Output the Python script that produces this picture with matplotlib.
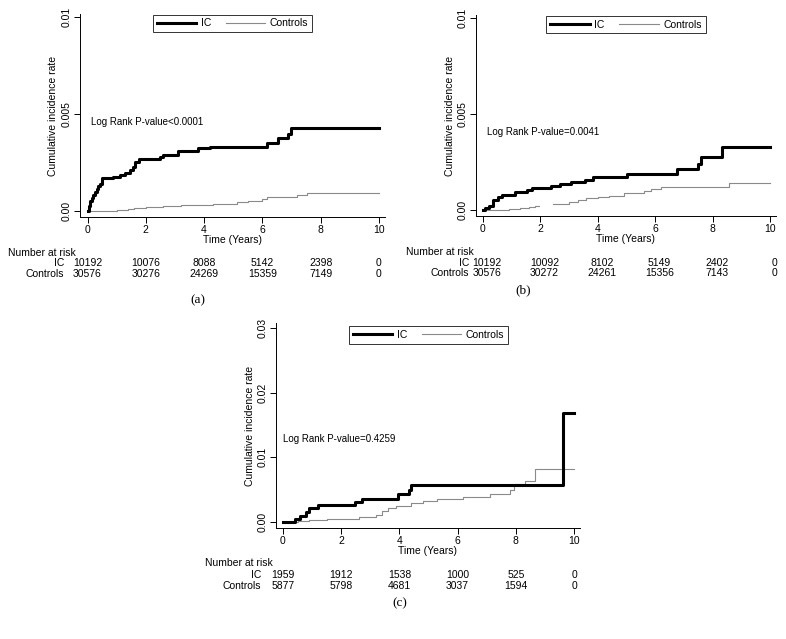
import matplotlib
matplotlib.use("Agg")
import matplotlib.pyplot as plt
import matplotlib.transforms as mtransforms
import numpy as np

plt.rcParams['font.family'] = ['Liberation Sans', 'DejaVu Sans']
plt.rcParams['font.size'] = 7

W, H = 786, 639

# ---- data ----
years = [0, 2, 4, 6, 8, 10]

# panel (a)
a_ic_t = [0, 0.05, 0.1, 0.14, 0.2, 0.26, 0.32, 0.37, 0.43, 0.49, 0.86, 1.11, 1.28, 1.46,
          1.57, 1.63, 1.76, 2.5, 2.6, 3.1, 3.8, 4.2, 6.15, 6.55, 6.89, 6.98, 10]
a_ic_v = [0, 0.00025, 0.0005, 0.00065, 0.00085, 0.001, 0.00115, 0.00129, 0.0014, 0.00168,
          0.00174, 0.00186, 0.00198, 0.00211, 0.00228, 0.00254, 0.00268, 0.0028, 0.00289,
          0.00311, 0.00323, 0.0033, 0.00352, 0.00375, 0.00397, 0.00426, 0.00426]
a_ct_t = [0, 0.6, 1.0, 1.4, 1.6, 1.8, 2.0, 2.6, 3.2, 3.8, 4.3, 4.9, 5.12, 5.52, 5.97, 6.15,
          7.18, 7.52, 10]
a_ct_v = [0, 0.00002, 0.00004, 0.00008, 0.00013, 0.00017, 0.0002, 0.00025, 0.0003, 0.00033,
          0.00035, 0.00038, 0.00044, 0.00052, 0.0006, 0.00074, 0.00082, 0.00094, 0.00094]
a_risk_ic = ["10192", "10076", "8088", "5142", "2398", "0"]
a_risk_ct = ["30576", "30276", "24269", "15359", "7149", "0"]
a_pval = "Log Rank P-value<0.0001"

# panel (b)
b_ic_t = [0, 0.07, 0.21, 0.36, 0.53, 0.67, 1.11, 1.52, 1.7, 2.37, 2.69, 3.06, 3.56, 3.84,
          5.0, 6.75, 7.5, 7.6, 8.32, 10]
b_ic_v = [0, 0.00009, 0.00021, 0.00052, 0.00066, 0.00078, 0.00092, 0.00102, 0.00112,
          0.00125, 0.00136, 0.00148, 0.00158, 0.0017, 0.00187, 0.00212, 0.00238, 0.00274,
          0.00326, 0.00326]
b_ct_t = [0, 0.5, 0.9, 1.3, 1.6, 1.8, 1.95, 2.45, 3.0, 3.3, 3.6, 4.0, 4.4, 4.9, 5.6, 5.86,
          6.21, 8.58, 10]
b_ct_v = [0, 0.00002, 0.00005, 0.0001, 0.00015, 0.00022, np.nan, 0.00033, 0.00042, 0.0005,
          0.0006, 0.00068, 0.00073, 0.00087, 0.001, 0.00109, 0.00122, 0.00142, 0.00142]
b_risk_ic = ["10192", "10092", "8102", "5149", "2402", "0"]
b_risk_ct = ["30576", "30272", "24261", "15356", "7143", "0"]
b_pval = "Log Rank P-value=0.0041"

# panel (c)
c_ic_t = [0, 0.4, 0.57, 0.8, 0.89, 1.2, 2.46, 2.73, 3.95, 4.33, 4.41, 9.62, 10]
c_ic_v = [0, 0.00041, 0.00098, 0.0016, 0.00212, 0.00264, 0.00311, 0.00363, 0.0043,
          0.00497, 0.0057, 0.0168, 0.0168]
c_ct_t = [0, 0.5, 0.9, 1.5, 2.2, 2.6, 3.2, 3.4, 3.6, 3.9, 4.4, 4.8, 5.3, 6.2, 7.1, 7.8,
          7.95, 8.3, 8.65, 10]
c_ct_v = [0, 0.0001, 0.0003, 0.0004, 0.0005, 0.0008, 0.0011, 0.0017, 0.0021, 0.0025,
          0.0029, 0.0032, 0.0035, 0.0038, 0.0044, 0.0049, 0.0058, 0.0063, 0.0082, 0.0082]
c_risk_ic = ["1959", "1912", "1538", "1000", "525", "0"]
c_risk_ct = ["5877", "5798", "4681", "3037", "1594", "0"]
c_pval = "Log Rank P-value=0.4259"

ab_yticks = [0, 0.005, 0.01]
ab_ylabels = ["0.00", "0.005", "0.01"]
c_yticks = [0, 0.01, 0.02, 0.03]
c_ylabels = ["0.00", "0.01", "0.02", "0.03"]

fig = plt.figure(figsize=(W / 100, H / 100), dpi=100)


def fy(py):
    return 1 - py / H


def panel(box, x0, pxyr, y0, ppu, ic_t, ic_v, ct_t, ct_v, yticks, ylabels,
          pval, pval_xy, legend_c, risk_ic, risk_ct, risk_y, lab_right, nar_left,
          tag, tag_xy, ylab_x, num_shift=0):
    left, top, right, bottom = box
    ax = fig.add_axes([left / W, fy(bottom), (right - left) / W, (bottom - top) / H])
    ax.set_xlim((left - x0) / pxyr, (right - x0) / pxyr)
    ax.set_ylim((y0 - bottom) / ppu, (y0 - top) / ppu)

    ax.plot(ct_t, ct_v, drawstyle='steps-post', color='#8a8a8a', lw=0.8, label='Controls')
    ax.plot(ic_t, ic_v, drawstyle='steps-post', color='black', lw=2.2, label='IC')

    for s in ['top', 'right']:
        ax.spines[s].set_visible(False)
    ax.spines['left'].set_linewidth(0.7)
    ax.spines['bottom'].set_linewidth(0.7)
    ax.set_xticks(years)
    ax.set_yticks(yticks)
    ax.set_yticklabels(ylabels, rotation=90, va='center')
    ax.tick_params(length=4, width=0.7, pad=2, labelsize=7.5)
    ax.set_xlabel("Time (Years)", fontsize=7.5, labelpad=0)
    ax.set_ylabel("Cumulative incidence rate", fontsize=7.5)
    ax.yaxis.set_label_coords((ylab_x - left) / (right - left), 0.5)

    ax.text(pval_xy[0] / W, fy(pval_xy[1]), pval, transform=fig.transFigure,
            fontsize=7, va='center', ha='left')

    h, l = ax.get_legend_handles_labels()
    leg = ax.legend(h[::-1], l[::-1], ncol=2, loc='center',
                    bbox_to_anchor=(legend_c[0] / W, fy(legend_c[1])),
                    bbox_transform=fig.transFigure, frameon=True, fancybox=False,
                    fontsize=7.5, handlelength=3.8, columnspacing=1.4,
                    borderpad=0.35, handletextpad=0.45, borderaxespad=0)
    leg.get_frame().set_edgecolor('black')
    leg.get_frame().set_linewidth(0.7)

    tr = mtransforms.blended_transform_factory(ax.transData, fig.transFigure)
    shift = mtransforms.ScaledTranslation(num_shift / 100, 0, fig.dpi_scale_trans)
    fig.text(nar_left / W, fy(risk_y[0]), "Number at risk", fontsize=7.5, va='center')
    fig.text(lab_right / W, fy(risk_y[1]), "IC", fontsize=7.5, va='center', ha='right')
    fig.text(lab_right / W, fy(risk_y[2]), "Controls", fontsize=7.5, va='center', ha='right')
    for yr, n1, n2 in zip(years, risk_ic, risk_ct):
        fig.text(yr, fy(risk_y[1]), n1, transform=tr + shift, fontsize=7.5,
                 va='center', ha='center')
        fig.text(yr, fy(risk_y[2]), n2, transform=tr + shift, fontsize=7.5,
                 va='center', ha='center')

    fig.text(tag_xy[0] / W, fy(tag_xy[1]), tag, family='Liberation Serif', fontsize=9.5,
             ha='center', va='center')
    return ax


panel((80, 14, 385, 217), 87.5, 29.15, 211, 19400, a_ic_t, a_ic_v, a_ct_t, a_ct_v,
      ab_yticks, ab_ylabels, a_pval, (91, 122), (232.5, 23.5),
      a_risk_ic, a_risk_ct, (253, 263, 274), 64, 8, "(a)", (198, 300), 58)

panel((476, 15, 776, 216), 483, 28.7, 210, 19200, b_ic_t, b_ic_v, b_ct_t, b_ct_v,
      ab_yticks, ab_ylabels, b_pval, (487, 132), (626, 24.5),
      b_risk_ic, b_risk_ct, (252, 263, 273), 469, 406, "(b)", (523, 290), 455,
      num_shift=4)

panel((276, 323, 580, 528), 283, 29.1, 522, 6470, c_ic_t, c_ic_v, c_ct_t, c_ct_v,
      c_yticks, c_ylabels, c_pval, (283, 439), (428.5, 335),
      c_risk_ic, c_risk_ct, (563, 575, 586), 261, 205, "(c)", (400, 603), 255)

fig.savefig("out.png", dpi=100, facecolor='white')
